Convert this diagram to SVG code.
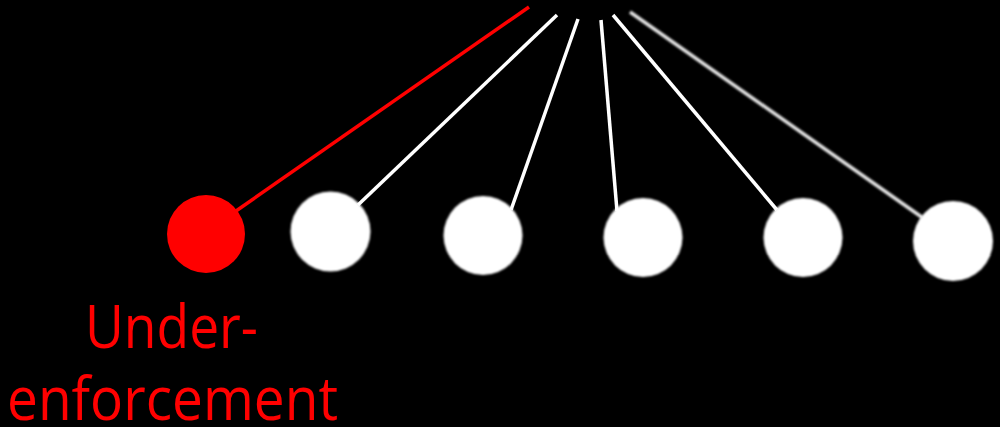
<svg xmlns="http://www.w3.org/2000/svg" width="1000" height="427" viewBox="0 0 1000 427">
<style>
.ball{fill:#fff;filter:url(#soft)}
.wire{stroke:#fff;stroke-width:3.5;stroke-linecap:butt;fill:none}
.lbl{font-family:"Open Sans","Liberation Sans",sans-serif;font-size:60px;fill:#ff0000;text-anchor:middle}
</style>
<defs>
<filter id="soft" x="-10%" y="-10%" width="120%" height="120%"><feGaussianBlur stdDeviation="1.2"/></filter>
<filter id="soft2" x="-10%" y="-10%" width="120%" height="120%"><feGaussianBlur stdDeviation="1"/></filter>
</defs>
<rect width="1000" height="427" fill="#000"/>
<g id="connectors">
<line x1="529" y1="7" x2="236" y2="211" stroke="#ff0000" stroke-width="3.5"/>
<line class="wire" x1="557" y1="15" x2="358" y2="205"/>
<line class="wire" x1="578" y1="19" x2="511" y2="210"/>
<line class="wire" x1="601" y1="20" x2="617" y2="211"/>
<line class="wire" x1="613" y1="15" x2="777" y2="210"/>
<line x1="630" y1="12" x2="923" y2="218" stroke="#e6e6e6" stroke-width="3.5" filter="url(#soft2)"/>
</g>
<g id="node1"><circle cx="206" cy="234" r="39" fill="#ff0000"/></g>
<g id="node2"><circle class="ball" cx="330.5" cy="231.5" r="40"/></g>
<g id="node3"><circle class="ball" cx="483" cy="235.5" r="39.5"/></g>
<g id="node4"><circle class="ball" cx="643" cy="237.5" r="39.5"/></g>
<g id="node5"><circle class="ball" cx="803" cy="237.5" r="39.5"/></g>
<g id="node6"><circle class="ball" cx="953" cy="241" r="40"/></g>
<g id="label">
<text class="lbl" x="171.5" y="348" textLength="173" lengthAdjust="spacingAndGlyphs">Under-</text>
<text class="lbl" x="172.5" y="420" textLength="331" lengthAdjust="spacingAndGlyphs">enforcement</text>
</g>
</svg>
